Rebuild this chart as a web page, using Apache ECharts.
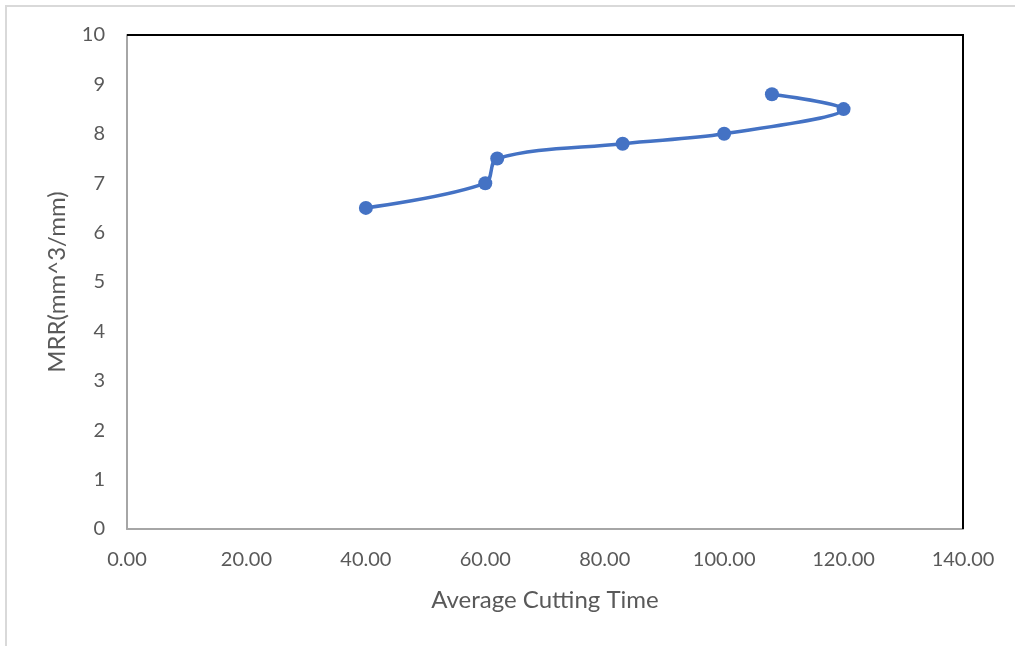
<!DOCTYPE html>
<html>
<head>
<meta charset="utf-8">
<script src="https://cdn.jsdelivr.net/npm/echarts@6/dist/echarts.min.js"></script>
<style>
  html, body { margin: 0; padding: 0; background: #fff; }
  #chart { width: 1015px; height: 646px; }
</style>
</head>
<body>
<div id="chart"></div>
<script>
// Cutting time vs. material removal rate, in measurement order
const cuttingTime = [40, 60, 62, 83, 100, 120, 108];
const mrr = [6.5, 7.0, 7.5, 7.8, 8.0, 8.5, 8.8];

const xTitle = 'Average Cutting Time';
const yTitle = 'MRR(mm^3/mm)';

const points = cuttingTime.map((t, i) => [t, mrr[i]]);

const font = 'Lato, "Open Sans", sans-serif';
const textColor = '#595959';

const chart = echarts.init(document.getElementById('chart'), null, { renderer: 'canvas' });

chart.setOption({
  animation: false,
  backgroundColor: '#ffffff',
  grid: { left: 127, right: 52, top: 35, bottom: 117 },
  graphic: [
    // light frame around the chart area
    { type: 'polyline', shape: { points: [[6, 646], [6, 6], [1015, 6]] },
      style: { stroke: '#d9d9d9', lineWidth: 2, fill: null }, silent: true },
    // dark top and right edges of the plot box
    { type: 'polyline', shape: { points: [[127, 35], [963, 35], [963, 529]] },
      style: { stroke: '#000', lineWidth: 2, fill: null }, silent: true, z: 10 }
  ],
  xAxis: {
    type: 'value', min: 0, max: 140, interval: 20,
    name: xTitle, nameLocation: 'middle', nameGap: 59,
    nameTextStyle: { fontFamily: font, fontSize: 24, color: textColor },
    axisLine: { show: true, lineStyle: { color: '#a6a6a6', width: 2 } },
    axisTick: { show: false },
    splitLine: { show: false },
    axisLabel: { fontFamily: font, fontSize: 20, color: textColor, margin: 21,
                 formatter: v => v.toFixed(2) }
  },
  yAxis: {
    type: 'value', min: 0, max: 10, interval: 1,
    name: yTitle, nameLocation: 'middle', nameGap: 58, nameRotate: 90,
    nameTextStyle: { fontFamily: font, fontSize: 24, color: textColor },
    axisLine: { show: true, lineStyle: { color: '#a6a6a6', width: 2 } },
    axisTick: { show: false },
    splitLine: { show: false },
    axisLabel: { fontFamily: font, fontSize: 20, color: textColor, margin: 22 }
  },
  series: [{
    type: 'line',
    data: points,
    smooth: 0.35,
    symbol: 'circle',
    symbolSize: 14,
    lineStyle: { color: '#4472C4', width: 3.5 },
    itemStyle: { color: '#4472C4' },
    z: 5
  }]
});
</script>
</body>
</html>
